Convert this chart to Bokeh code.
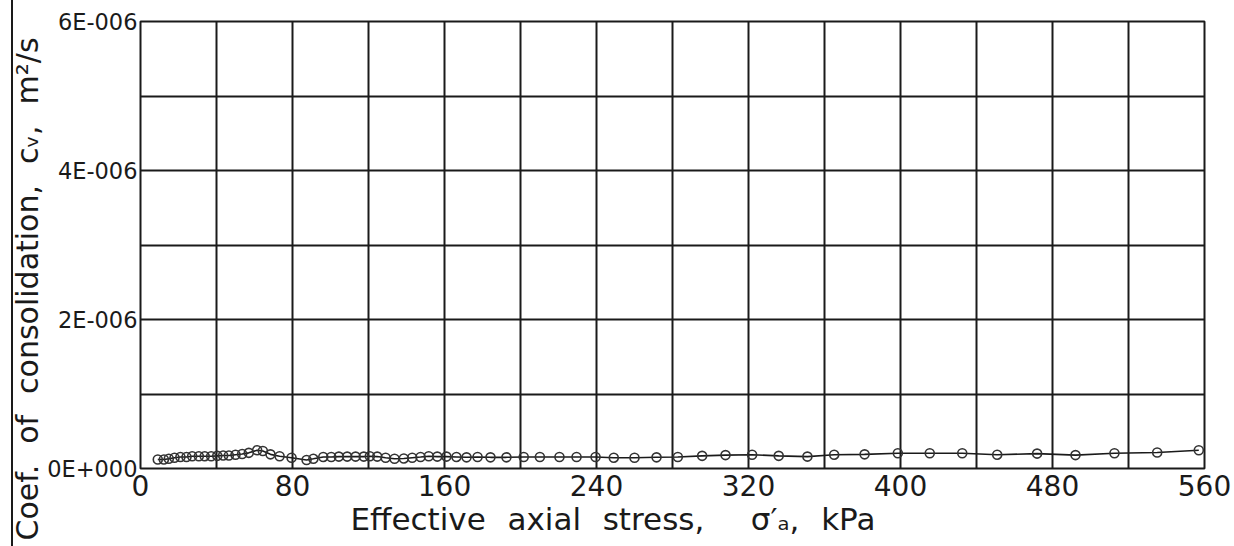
from bokeh.plotting import figure
from bokeh.models import FixedTicker, CustomJSTickFormatter, Title
from bokeh.embed import file_html
from bokeh.resources import INLINE

# Effective axial stress, kPa
stress = [9.1, 12.3, 14.9, 17.9, 21.0, 24.2, 27.2, 30.7, 33.8, 37.2, 40.4, 43.5,
          46.5, 50.0, 53.5, 57.0, 61.4, 64.4, 68.4, 73.2, 79.5, 87.4, 91.0, 96.2,
          100.4, 104.4, 108.8, 113.2, 117.5, 120.7, 124.6, 129.0, 133.7, 138.6,
          143.0, 147.4, 151.7, 156.2, 161.0, 166.3, 171.6, 177.4, 184.2, 192.6,
          201.7, 210.2, 220.5, 229.5, 239.5, 249.1, 260.0, 271.6, 282.8, 295.6,
          307.9, 321.9, 335.9, 351.0, 365.1, 381.1, 398.6, 415.4, 432.5, 450.9,
          471.9, 492.1, 512.6, 535.1, 557.0]
# Coefficient of consolidation, units of 1e-7 m2/s
cv_e7 = [1.2, 1.2, 1.3, 1.45, 1.55, 1.55, 1.65, 1.65, 1.65, 1.65, 1.7, 1.75,
         1.75, 1.85, 1.95, 2.1, 2.45, 2.35, 1.9, 1.65, 1.45, 1.15, 1.3, 1.55,
         1.55, 1.6, 1.6, 1.6, 1.6, 1.65, 1.6, 1.45, 1.3, 1.35,
         1.45, 1.55, 1.65, 1.6, 1.6, 1.55, 1.5, 1.55, 1.5, 1.5,
         1.55, 1.55, 1.55, 1.55, 1.55, 1.45, 1.45, 1.5, 1.55, 1.7,
         1.8, 1.85, 1.7, 1.6, 1.85, 1.9, 2.05, 2.05, 2.05, 1.85,
         2.0, 1.8, 2.05, 2.15, 2.45]
cv = [v * 1e-7 for v in cv_e7]

x_grid_ticks = list(range(0, 561, 40))
x_label_ticks = list(range(0, 561, 80))
y_grid_ticks = [i * 1e-6 for i in range(0, 7)]
y_label_ticks = [0, 2e-6, 4e-6, 6e-6]

x_title = "Effective\u2002\u2009axial\u2002\u2009stress,\u2003\u2002σ′ₐ,\u2002\u2009kPa"
y_title = "Coef.\u2002\u2009of\u2002\u2009consolidation,\u2002\u2009cᵥ,\u2002\u2009m²/s"

FONT = "DejaVu Sans"
INK = "#1a1a1a"

p = figure(width=1234, height=546, x_range=(0, 560), y_range=(0, 6e-6),
           output_backend="svg", toolbar_location=None,
           min_border_left=140, min_border_right=30, min_border_top=21,
           min_border_bottom=78)

# page edge line on the left, drawn behind a transparent border area
p.border_fill_color = None
p.background_fill_color = "white"
p.styles = {"background": "linear-gradient(to right, #ffffff 0px, #ffffff 11px, "
                          "#1a1a1a 11px, #1a1a1a 13px, #ffffff 13px, #ffffff 100%)"}

p.outline_line_color = INK
p.outline_line_width = 2

p.xaxis.ticker = FixedTicker(ticks=x_label_ticks)
p.yaxis.ticker = FixedTicker(ticks=y_label_ticks)
p.xgrid.ticker = FixedTicker(ticks=x_grid_ticks)
p.ygrid.ticker = FixedTicker(ticks=y_grid_ticks)
for g in (p.xgrid, p.ygrid):
    g.grid_line_color = INK
    g.grid_line_width = 2
    g.grid_line_alpha = 1.0

for ax in (p.xaxis, p.yaxis):
    ax.axis_line_color = None
    ax.major_tick_line_color = None
    ax.minor_tick_line_color = None
    ax.major_tick_out = 0
    ax.major_tick_in = 0
    ax.minor_tick_out = 0
    ax.minor_tick_in = 0
    ax.major_label_text_font = FONT
    ax.major_label_text_color = INK

p.xaxis.major_label_text_font_size = "28px"
p.xaxis.major_label_standoff = 6
p.yaxis.major_label_text_font_size = "22.5px"
p.yaxis.major_label_standoff = 3
p.yaxis.major_label_orientation = "horizontal"
p.yaxis.formatter = CustomJSTickFormatter(code="""
    const m = Math.round(tick * 1e6);
    return m === 0 ? "0E+000" : m + "E-006";
""")

p.line(stress, cv, line_color=INK, line_width=1.6)
p.scatter(stress, cv, marker="circle", size=9, fill_alpha=0,
          line_color="#333333", line_width=1.6)

xt = Title(text=x_title, align="left", offset=210, text_font=FONT,
           text_font_size="31px", text_font_style="normal", text_color=INK,
           standoff=0)
yt = Title(text=y_title, align="left", offset=-72, text_font=FONT,
           text_font_size="30px", text_font_style="normal", text_color=INK,
           standoff=0)
p.add_layout(xt, "below")
p.add_layout(yt, "left")

open("out.html", "w").write(file_html(p, INLINE))
